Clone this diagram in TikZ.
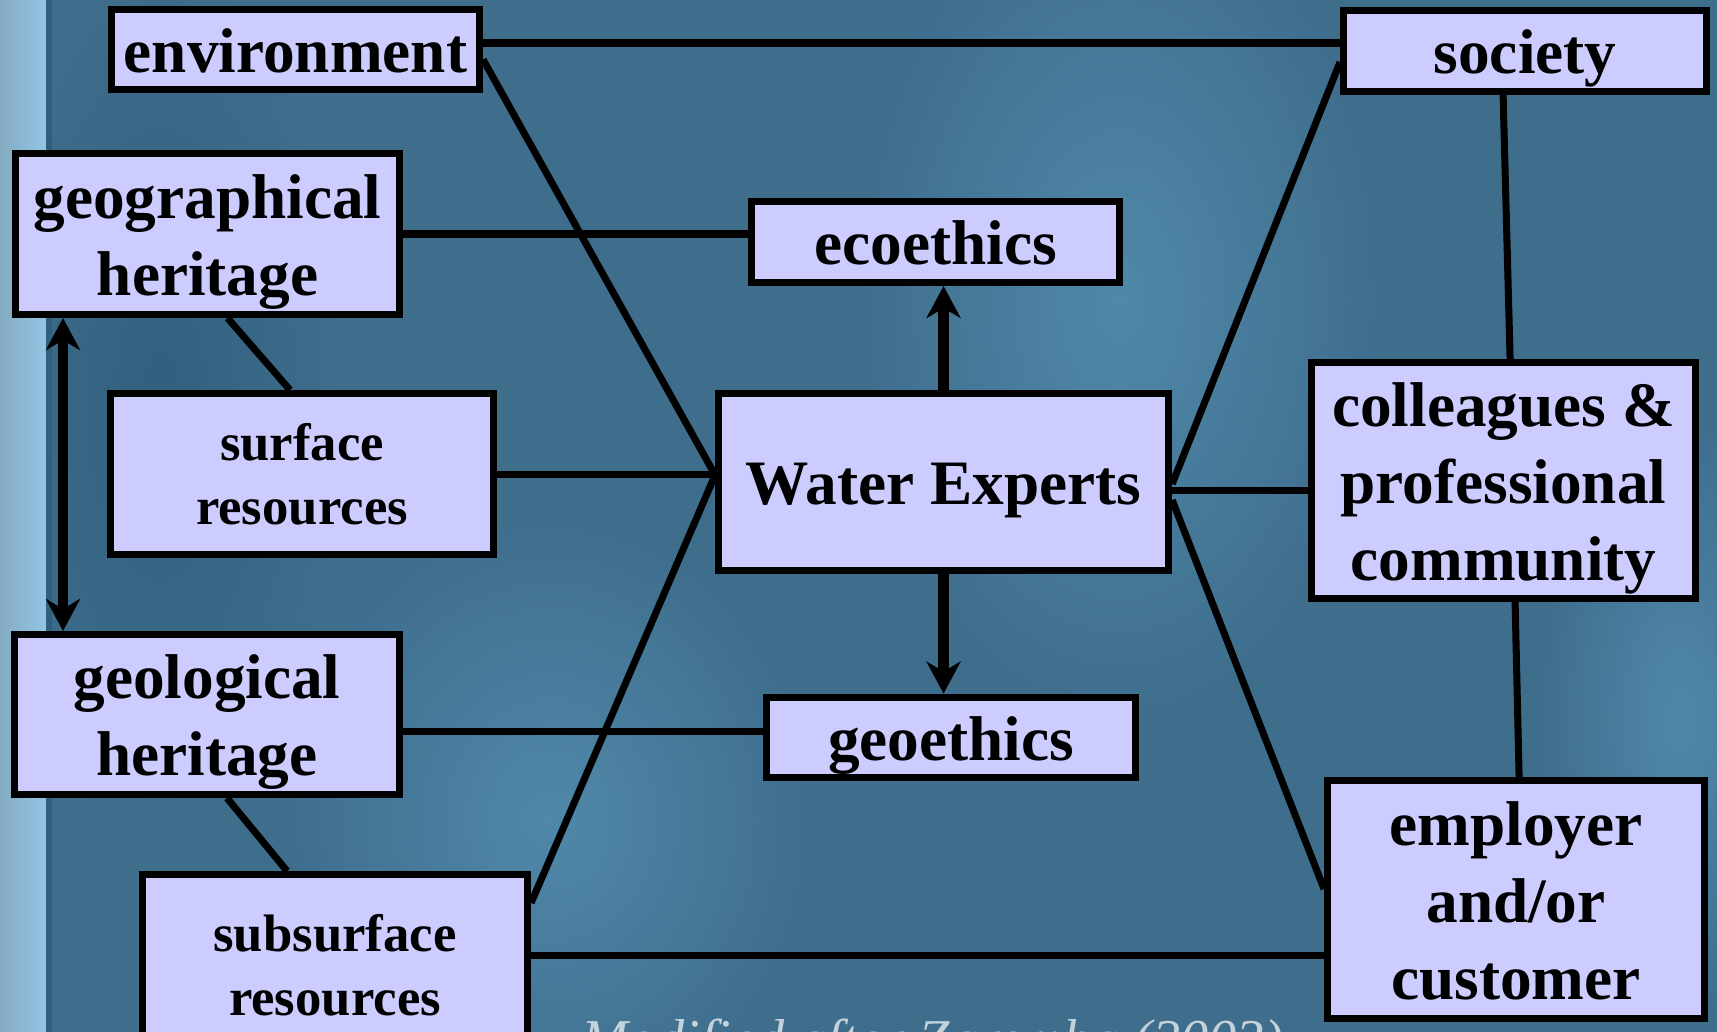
\documentclass[tikz,border=0pt]{standalone}
\usepackage{fontspec}
\setmainfont{Liberation Serif}
\usetikzlibrary{arrows.meta,calc}

\definecolor{bgblue}{HTML}{3F6E8D}
\definecolor{bglight}{HTML}{5088A9}
\definecolor{bgdark}{HTML}{31607E}
\definecolor{stripA}{HTML}{84AAC2}
\definecolor{stripB}{HTML}{92C6E4}
\definecolor{boxfill}{HTML}{CCCCFF}
\definecolor{capgrey}{HTML}{C4D2DC}

% struts so that text sits on its line like in the slide
\newcommand{\topstrut}{\rule{0pt}{18pt}}
\newcommand{\botstrut}{\rule[-5pt]{0pt}{5pt}}

\begin{document}
\begin{tikzpicture}[scale=0.1,
  box/.style={draw=black, fill=boxfill, line width=2pt, inner sep=0pt, align=center,
    font=\bfseries\fontsize{18}{22}\selectfont},
  smallbox/.style={box, font=\bfseries\fontsize{15}{18.2}\selectfont},
  link/.style={line width=2pt},
  flow/.style={line width=2.9pt, -{Stealth[length=3.2mm, width=3.4mm, inset=1mm]}},
  both/.style={line width=2.9pt, {Stealth[length=3.2mm, width=3.4mm, inset=1mm]}-{Stealth[length=3.2mm, width=3.4mm, inset=1mm]}}]
\useasboundingbox (0,0) rectangle (171.7,-103.2);
% background
\fill [bgblue] (0,0) rectangle (171.7,-103.2);
\shade [inner color=bgdark, outer color=bgblue] (16,-40) ellipse (18 and 45);
\shade [inner color=bglight, outer color=bgblue] (112,-30) ellipse (26 and 42);
\shade [inner color=bglight, outer color=bgblue] (55,-82) ellipse (26 and 30);
\shade [inner color=bglight, outer color=bgblue] (168,-72) ellipse (14 and 30);
\shade [left color=stripA, right color=stripB] (0,0) rectangle (4.6,-103.2);
\fill [bgdark] (4.6,0) rectangle (5.2,-103.2);

% boxes
\node [box, minimum width=3.68cm, minimum height=0.80cm] (env) at (29.55,-4.95) {\topstrut environment\botstrut};
\node [box, minimum width=3.63cm, minimum height=0.75cm] (soc) at (152.5,-5.1) {\topstrut society\botstrut};
\node [box, minimum width=3.84cm, minimum height=1.61cm] (geog) at (20.75,-23.4) {\topstrut geographical\\heritage\botstrut};
\node [box, minimum width=3.68cm, minimum height=0.81cm] (eco) at (93.55,-24.2) {\topstrut ecoethics\botstrut};
\node [smallbox, minimum width=3.83cm, minimum height=1.61cm] (surf) at (30.2,-47.4) {surface\\resources};
\node [box, minimum width=4.50cm, minimum height=1.77cm] (we) at (94.35,-48.2) {\topstrut Water Experts\botstrut};
\node [box, minimum width=3.84cm, minimum height=2.36cm] (coll) at (150.35,-48.05) {\topstrut colleagues \&\\professional\\community\botstrut};
\node [box, minimum width=3.85cm, minimum height=1.60cm] (geol) at (20.7,-71.45) {\topstrut geological\\heritage\botstrut};
\node [box, minimum width=3.69cm, minimum height=0.78cm] (geo) at (95.1,-73.75) {\topstrut geoethics\botstrut};
\node [box, minimum width=3.77cm, minimum height=2.38cm] (emp) at (151.6,-89.95) {\topstrut employer\\and/or\\customer\botstrut};
\node [smallbox, minimum width=3.85cm, minimum height=1.82cm] (subs) at (33.5,-96.55) {subsurface\\resources};

% junction points
\coordinate (wl) at ($(we.west)+(0,0.7)$);
\coordinate (wr1) at ($(we.east)+(0,-0.2)$);
\coordinate (wr2) at ($(we.east)+(0,-0.8)$);
\coordinate (wr3) at ($(we.east)+(0,-1.8)$);
\coordinate (e1) at ($(env.east)+(0,0.65)$);
\coordinate (s1) at ($(subs.east)+(0,1.05)$);
\coordinate (g1) at ($(geol.east)+(0,-1.65)$);
\coordinate (a1) at ($(geog.south west)+(5.1,0)$);

% links
\draw [link] (e1) -- (e1 -| soc.west);
\draw [link] ($(env.east)+(0,-1)$) -- (wl);
\draw [link] (surf.east) -- (surf.east -| wl);
\draw [link] ($(subs.north east)+(0,-3.2)$) -- (wl);
\draw [link] (s1) -- (s1 -| emp.west);
\draw [link] (wr1) -- ($(soc.west)+(0,-1.1)$);
\draw [link] (wr2) -- (wr2 -| coll.west);
\draw [link] (wr3) -- ($(emp.west)+(0,1.05)$);
\draw [link] ($(soc.south)+(-2.2,0)$) -- ($(coll.north)+(0.65,0)$);
\draw [link] ($(coll.south)+(1.15,0)$) -- ($(emp.north)+(0.3,0)$);
\draw [link] (geog.east) -- (geog.east -| eco.west);
\draw [link] ($(geog.south)+(2,0)$) -- ($(surf.north)+(-1.2,0)$);
\draw [link] (g1) -- (g1 -| geo.west);
\draw [link] ($(geol.south)+(2,0)$) -- ($(subs.north)+(-4.8,0)$);

% arrows
\draw [both] (a1) -- (a1 |- geol.north);
\draw [flow] (we.north) -- (we.north |- eco.south);
\draw [flow] (we.south) -- (we.south |- geo.north);

% source line, cut by the lower edge
\node [anchor=base, text=capgrey, font=\itshape\fontsize{16}{19}\selectfont] (src) at (93.25,-105.9) {Modified after Zaremba (2003)};
\end{tikzpicture}
\end{document}
